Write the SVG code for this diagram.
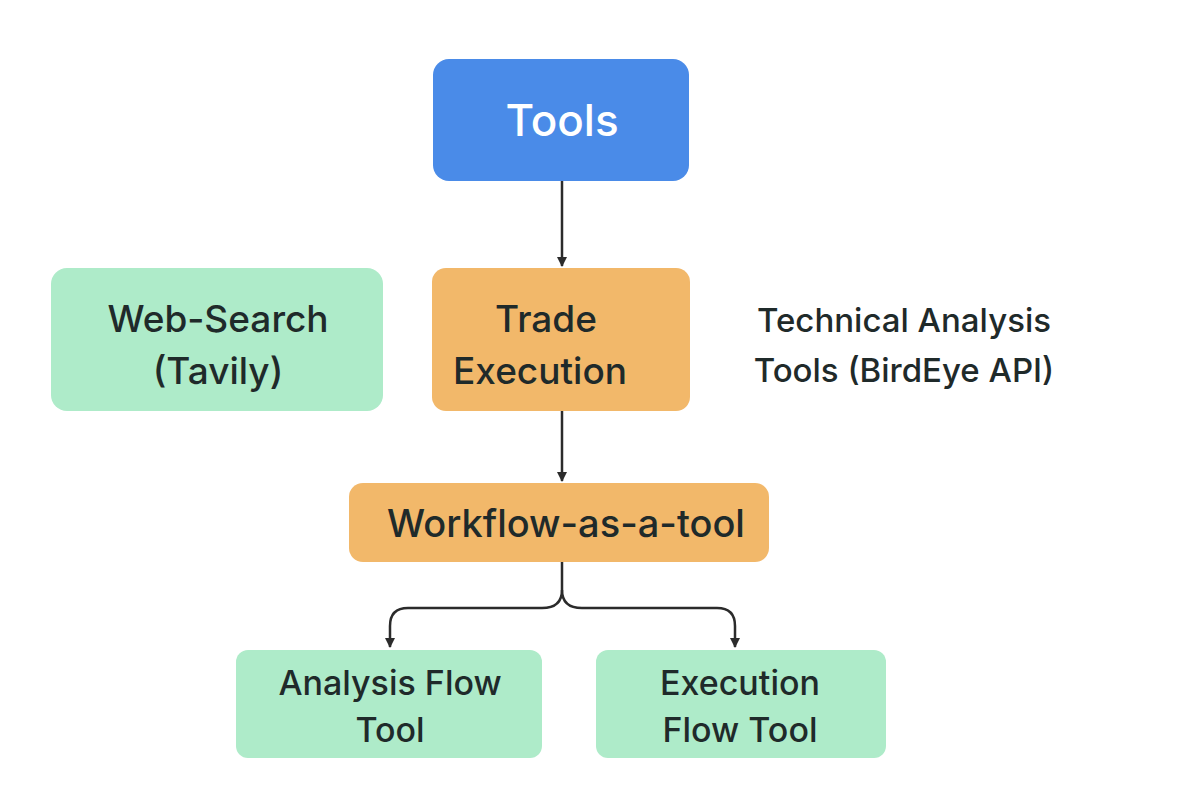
<svg xmlns="http://www.w3.org/2000/svg" width="1200" height="800" viewBox="0 0 1200 800">
<defs>
<marker id="arr" viewBox="0 0 10 10" refX="9" refY="5" markerWidth="10" markerHeight="10" markerUnits="userSpaceOnUse" orient="auto">
<path d="M0,0 L10,5 L0,10 Z" fill="#2b2b2b"/>
</marker>
<style>
.t{font-family:Inter,"Liberation Sans",sans-serif;font-weight:500;fill:#1f2a2a;text-anchor:middle}
.green{fill:#AEEBC9}
.orange{fill:#F2B86A}
.conn{stroke:#2b2b2b;stroke-width:2.5;fill:none}
</style>
</defs>
<rect width="1200" height="800" fill="#ffffff"/>
<g id="connectors">
<path class="conn" d="M562,181 V266" marker-end="url(#arr)"/>
<path class="conn" d="M562,411 V481" marker-end="url(#arr)"/>
<path class="conn" d="M562,562 V590 Q562,608 542,608 H408 Q390,608 390,626 V647" marker-end="url(#arr)"/>
<path class="conn" d="M562,590 Q562,608 582,608 H717 Q735,608 735,626 V647" marker-end="url(#arr)"/>
</g>
<g id="tools">
<rect x="433" y="59" width="256" height="122" rx="16" fill="#4A8BE8"/>
<text class="t" x="562" y="136" font-size="44" style="fill:#ffffff">Tools</text>
</g>
<g id="web-search">
<rect class="green" x="51" y="268" width="332" height="143" rx="16"/>
<text class="t" x="218" y="332" font-size="37">Web-Search</text>
<text class="t" x="218" y="384" font-size="37">(Tavily)</text>
</g>
<g id="trade-execution">
<rect class="orange" x="432" y="268" width="258" height="143" rx="14"/>
<text class="t" x="546" y="332" font-size="37">Trade</text>
<text class="t" x="540" y="384" font-size="37">Execution</text>
</g>
<g id="technical-analysis">
<text class="t" x="904" y="332" font-size="33">Technical Analysis</text>
<text class="t" x="904" y="382" font-size="33">Tools (BirdEye API)</text>
</g>
<g id="workflow">
<rect class="orange" x="349" y="483" width="420" height="79" rx="14"/>
<text class="t" x="566" y="537" font-size="38">Workflow-as-a-tool</text>
</g>
<g id="analysis-flow">
<rect class="green" x="236" y="650" width="306" height="108" rx="12"/>
<text class="t" x="390" y="695" font-size="34">Analysis Flow</text>
<text class="t" x="390" y="742" font-size="34">Tool</text>
</g>
<g id="execution-flow">
<rect class="green" x="596" y="650" width="290" height="108" rx="12"/>
<text class="t" x="740" y="695" font-size="34">Execution</text>
<text class="t" x="740" y="742" font-size="34">Flow Tool</text>
</g>
</svg>
